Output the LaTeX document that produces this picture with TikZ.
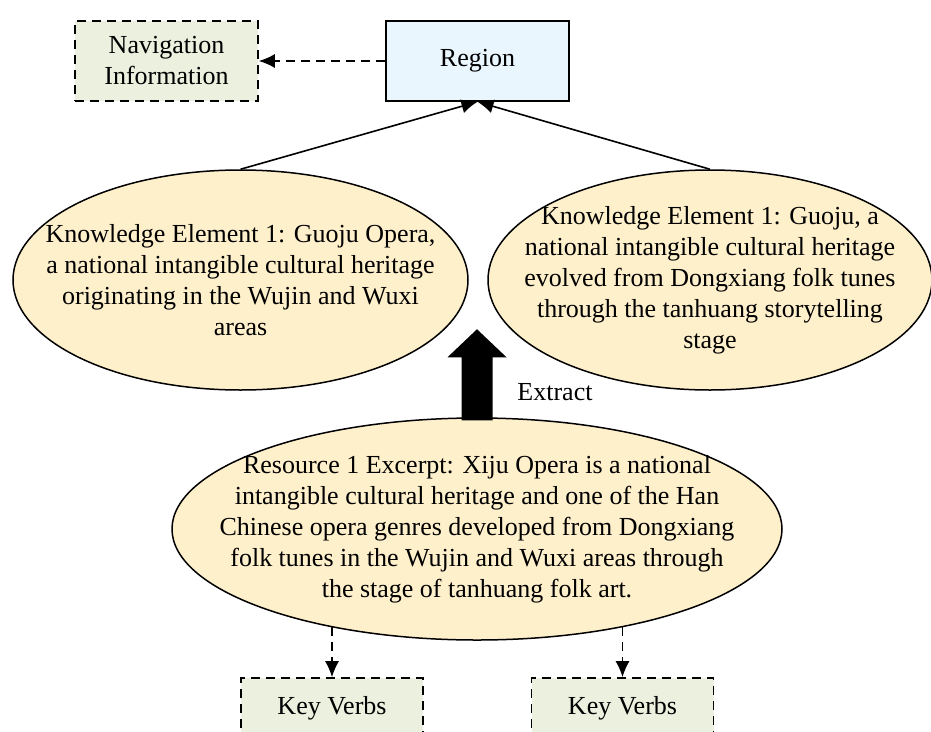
\documentclass[tikz,border=0pt]{standalone}
\usepackage{fontspec}
\setmainfont{Liberation Serif}
\usetikzlibrary{shapes.geometric,arrows.meta,positioning}

\definecolor{navgreen}{HTML}{EBF0DF}
\definecolor{regblue}{HTML}{EAF6FD}
\definecolor{ellyellow}{HTML}{FFF0CC}

\tikzset{
  dashbox/.style={draw, dash pattern=on 9pt off 6pt, line width=1.6pt, fill=navgreen,
                  minimum width=183pt, minimum height=80pt, inner sep=0pt, align=center},
  regbox/.style={draw, line width=1.6pt, fill=regblue, minimum width=183pt, minimum height=80pt},
  knowell/.style={draw, ellipse, line width=1.5pt, fill=ellyellow, inner sep=0pt},
  elltext/.style={align=center, inner sep=0pt},
  solidarrow/.style={-{Latex[length=16pt,width=14pt]}, line width=1.6pt},
  dasharrow/.style={solidarrow, dash pattern=on 9pt off 6pt},
}

\begin{document}
\begin{tikzpicture}[x=1pt, y=-1pt, font=\fontsize{26}{31}\selectfont]
    \useasboundingbox (0,0) rectangle (931,731);
    \clip (0,0) rectangle (931,731);

    \node[dashbox] (nav)    at (166.5,61) {Navigation\\Information};
    \node[regbox]  (region) at (477.5,61) {Region};

    % ellipses are drawn empty, their text is set on top
    \node[knowell, minimum width=455pt, minimum height=220pt] (ke1) at (240.5,280) {};
    \node[elltext] (ke1text) at (ke1) {Knowledge Element 1: Guoju Opera,\\a national intangible cultural heritage\\originating in the Wujin and Wuxi\\areas};
    \node[knowell, minimum width=444pt, minimum height=220pt] (ke2) at (710,280) {};
    \node[elltext] (ke2text) at (ke2) {Knowledge Element 1: Guoju, a\\national intangible cultural heritage\\evolved from Dongxiang folk tunes\\through the tanhuang storytelling\\stage};
    \node[knowell, minimum width=610pt, minimum height=222pt] (res) at (477,529) {};
    \node[elltext] (restext) at (res) {Resource 1 Excerpt: Xiju Opera is a national\\intangible cultural heritage and one of the Han\\Chinese opera genres developed from Dongxiang\\folk tunes in the Wujin and Wuxi areas through\\the stage of tanhuang folk art.};

    \node[dashbox, minimum width=182pt, minimum height=60pt] (kv1) at (332,708) {Key Verbs};
    \node[dashbox, minimum width=182pt, minimum height=60pt] (kv2) at (622.5,708) {Key Verbs};

    \draw[dasharrow]  (region.west) -- (nav.east);
    \draw[solidarrow] (ke1.north) -- (region.south);
    \draw[solidarrow] (ke2.north) -- (region.south);

    % block arrow for the extraction step
    \fill ([xshift=-15.5pt,yshift=-3pt]res.north) -- ++(0,-63) -- ++(-14,0) -- ++(29.5,-28)
          -- ++(29.5,28) -- ++(-14,0) -- ++(0,63) -- cycle;
    \node (extract) at (555,392) {Extract};

    \draw[dasharrow] (res.214 -| kv1.north) -- (kv1.north);
    \draw[dasharrow] (res.326 -| kv2.north) -- (kv2.north);
\end{tikzpicture}
\end{document}
